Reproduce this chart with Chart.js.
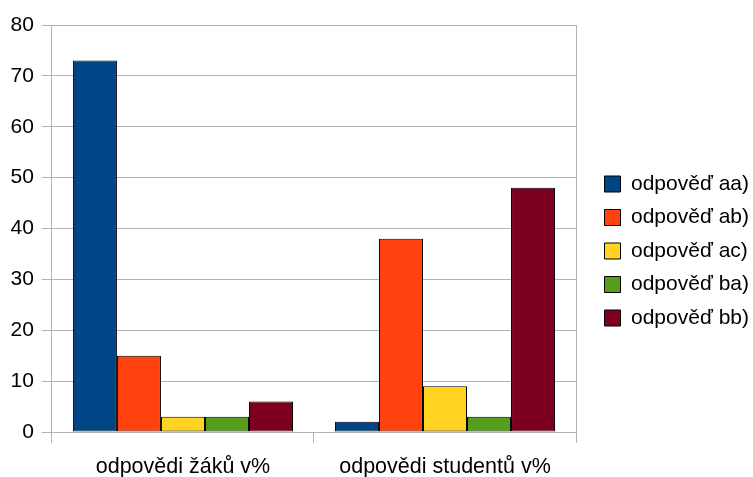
<!DOCTYPE html>
<html>
<head>
<meta charset="utf-8">
<script src="https://cdn.jsdelivr.net/npm/chart.js@4"></script>
<style>
html,body{margin:0;padding:0;background:#fff;}
#wrap{width:753px;height:477px;}
</style>
</head>
<body>
<div id="wrap"><canvas id="c" width="753" height="477"></canvas></div>
<script>
const categories = ["odpovědi žáků v%", "odpovědi studentů v%"];
const seriesNames = ["odpověď aa)", "odpověď ab)", "odpověď ac)", "odpověď ba)", "odpověď bb)"];
const valuesAA = [73, 2];
const valuesAB = [15, 38];
const valuesAC = [3, 9];
const valuesBA = [3, 3];
const valuesBB = [6, 48];
const yTicks = [0, 10, 20, 30, 40, 50, 60, 70, 80];
const colors = ["#004586", "#ff420e", "#ffd320", "#579d1c", "#7e0021"];

const allValues = [valuesAA, valuesAB, valuesAC, valuesBA, valuesBB];
const FONT = "'Liberation Sans', Arial, sans-serif";
const GRID = "#b3b3b3";
const LEGEND_GAP = 16;

const frame = {
  id: 'frame',
  afterLayout(chart) {
    chart.legend.left += LEGEND_GAP;
    chart.legend.right += LEGEND_GAP;
  },
  beforeDatasetsDraw(chart) {
    const a = chart.chartArea, ctx = chart.ctx;
    ctx.save();
    ctx.strokeStyle = GRID;
    ctx.lineWidth = 1;
    ctx.beginPath();
    ctx.moveTo(Math.round(a.right) + 0.5, a.top);
    ctx.lineTo(Math.round(a.right) + 0.5, a.bottom);
    ctx.stroke();
    ctx.restore();
  }
};

new Chart(document.getElementById('c'), {
  type: 'bar',
  data: {
    labels: categories,
    datasets: allValues.map((v, i) => ({
      label: seriesNames[i],
      data: v,
      backgroundColor: colors[i],
      borderColor: '#000000',
      borderWidth: 1,
      borderSkipped: false,
      categoryPercentage: 0.84,
      barPercentage: 1.0
    }))
  },
  options: {
    responsive: false,
    animation: false,
    devicePixelRatio: 1,
    layout: { padding: { left: 2.6, top: 25, right: 10, bottom: 0 } },
    plugins: {
      tooltip: { enabled: false },
      legend: {
        position: 'right',
        labels: {
          boxWidth: 16,
          boxHeight: 16,
          padding: 12.5,
          color: '#000',
          font: { family: FONT, size: 21 }
        }
      }
    },
    scales: {
      x: {
        afterFit: (s) => { s.height = 45; },
        grid: { display: true, offset: true, drawOnChartArea: false, color: GRID, tickLength: 11, lineWidth: 1 },
        border: { display: true, color: GRID },
        ticks: { color: '#000', padding: 13, font: { family: FONT, size: 21.5, lineHeight: 1 } }
      },
      y: {
        min: 0,
        max: 80,
        afterBuildTicks: (axis) => { axis.ticks = yTicks.map(v => ({ value: v })); },
        grid: { color: GRID, tickLength: 10, lineWidth: 1 },
        border: { display: true, color: GRID },
        ticks: { color: '#000', padding: 8, font: { family: FONT, size: 21 } }
      }
    }
  },
  plugins: [frame]
});
</script>
</body>
</html>
